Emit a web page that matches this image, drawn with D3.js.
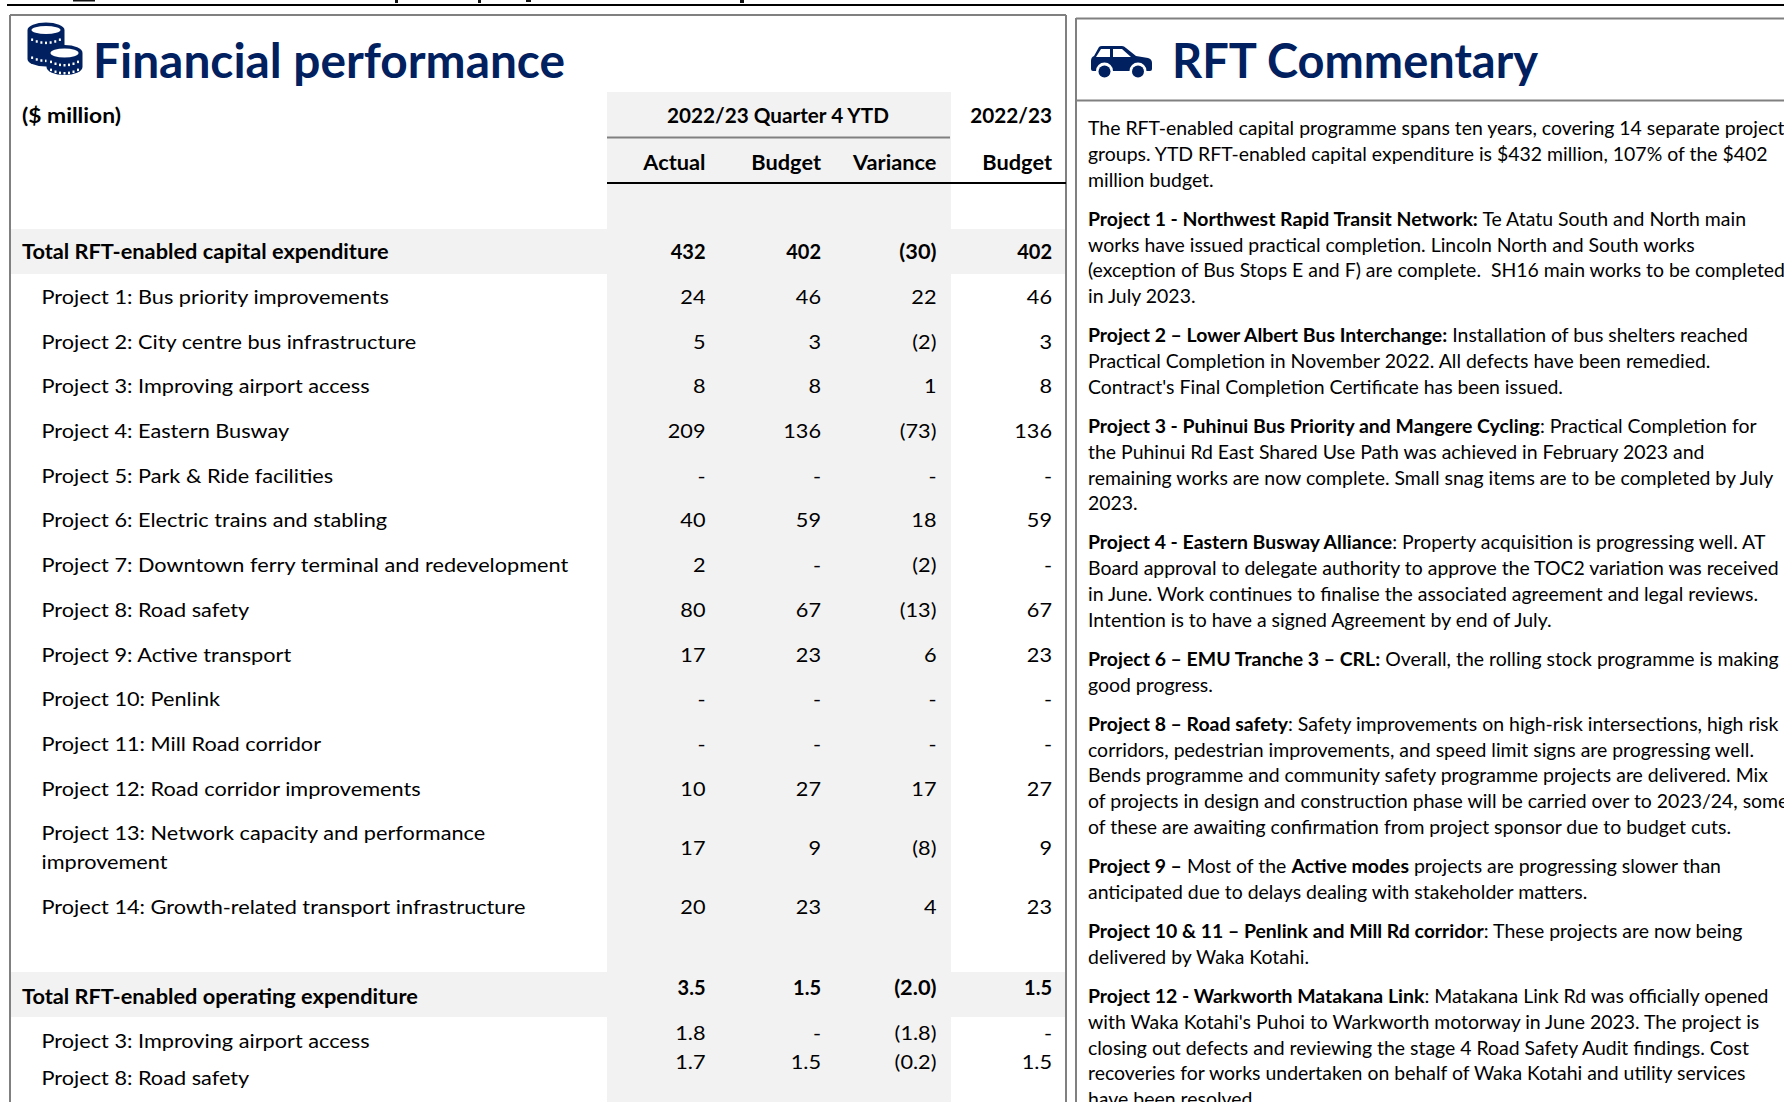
<!DOCTYPE html>
<html><head><meta charset="utf-8">
<script src="https://cdn.jsdelivr.net/npm/d3@7/dist/d3.min.js"></script>
<style>html,body{margin:0;padding:0;background:#fff;overflow:hidden}svg{display:block}text{font-family:Lato,"Open Sans",sans-serif;fill:#000}</style>
</head><body>
<svg id="c" width="1784" height="1102"></svg>
<script>
const columns = ["Actual","Budget","Variance","Budget FY"];
const capitalLabels = ["Total RFT-enabled capital expenditure","Project 1: Bus priority improvements","Project 2: City centre bus infrastructure","Project 3: Improving airport access","Project 4: Eastern Busway","Project 5: Park & Ride facilities","Project 6: Electric trains and stabling","Project 7: Downtown ferry terminal and redevelopment","Project 8: Road safety","Project 9: Active transport","Project 10: Penlink","Project 11: Mill Road corridor","Project 12: Road corridor improvements","Project 13: Network capacity and performance|improvement","Project 14: Growth-related transport infrastructure"];
const capitalActual   = [432,24,5,8,209,null,40,2,80,17,null,null,10,17,20];
const capitalBudget   = [402,46,3,8,136,null,59,null,67,23,null,null,27,9,23];
const capitalVariance = [-30,22,-2,1,-73,null,18,-2,-13,6,null,null,17,-8,4];
const capitalBudgetFY = [402,46,3,8,136,null,59,null,67,23,null,null,27,9,23];
const opexLabels = ["Total RFT-enabled operating expenditure","Project 3: Improving airport access","Project 8: Road safety"];
const opexActual   = [3.5,1.8,1.7];
const opexBudget   = [1.5,null,1.5];
const opexVariance = [-2.0,-1.8,-0.2];
const opexBudgetFY = [1.5,null,1.5];
const commentary = [
 ["The RFT-enabled capital programme spans ten years, covering 14 separate projects","groups. YTD RFT-enabled capital expenditure is $432 million, 107% of the $402","million budget."],
 ["*Project 1 - Northwest Rapid Transit Network:* Te Atatu South and North main","works have issued practical completion. Lincoln North and South works","(exception of Bus Stops E and F) are complete.  SH16 main works to be completed","in July 2023."],
 ["*Project 2 – Lower Albert Bus Interchange:* Installation of bus shelters reached","Practical Completion in November 2022. All defects have been remedied.","Contract's Final Completion Certificate has been issued."],
 ["*Project 3 - Puhinui Bus Priority and Mangere Cycling*: Practical Completion for","the Puhinui Rd East Shared Use Path was achieved in February 2023 and","remaining works are now complete. Small snag items are to be completed by July","2023."],
 ["*Project 4 - Eastern Busway Alliance*: Property acquisition is progressing well. AT","Board approval to delegate authority to approve the TOC2 variation was received","in June. Work continues to finalise the associated agreement and legal reviews.","Intention is to have a signed Agreement by end of July."],
 ["*Project 6 – EMU Tranche 3 – CRL:* Overall, the rolling stock programme is making","good progress."],
 ["*Project 8 – Road safety*: Safety improvements on high-risk intersections, high risk","corridors, pedestrian improvements, and speed limit signs are progressing well.","Bends programme and community safety programme projects are delivered. Mix","of projects in design and construction phase will be carried over to 2023/24, some","of these are awaiting confirmation from project sponsor due to budget cuts."],
 ["*Project 9 –* Most of the *Active modes* projects are progressing slower than","anticipated due to delays dealing with stakeholder matters."],
 ["*Project 10 & 11 – Penlink and Mill Rd corridor*: These projects are now being","delivered by Waka Kotahi."],
 ["*Project 12 - Warkworth Matakana Link*: Matakana Link Rd was officially opened","with Waka Kotahi's Puhoi to Warkworth motorway in June 2023. The project is","closing out defects and reviewing the stage 4 Road Safety Audit findings. Cost","recoveries for works undertaken on behalf of Waka Kotahi and utility services","have been resolved."]
];

const NAVY="#002060", BAND="#f2f2f2", RULE="#808080";
const svg=d3.select("#c");
const fmt0=v=>v==null?"-":v<0?`(${Math.abs(v)})`:`${v}`;
const fmt1=v=>v==null?"-":v<0?`(${Math.abs(v).toFixed(1)})`:v.toFixed(1);

const probe=svg.append("text").attr("x",-5000).attr("y",-5000).style("white-space","pre");
function measure(t,size,bold){probe.attr("font-size",size).attr("font-weight",bold?700:400).text(t);return probe.node().getComputedTextLength();}
const TS=20, BS=18.5;
const sxTable=527/measure(capitalLabels[7],TS,false);
const sxTableB=367/measure(capitalLabels[0],TS,true);
const sxHead=222/measure("2022/23 Quarter 4 YTD",TS,true);
const sxUnit=99/measure("($ million)",TS,true);
const sxBody=691/measure(commentary[4][1],BS,false);
const sxBodyB=390/measure("Project 1 - Northwest Rapid Transit Network:",BS,true);
function put(g,t,x,y,size,bold,sx,anchor){
  return g.append("text").attr("transform",`translate(${x},${y}) scale(${sx},1)`).attr("font-size",size).attr("font-weight",bold?700:400).attr("text-anchor",anchor||"start").style("white-space","pre").text(t);
}
const numSx=(t,bold)=>bold?(t.includes("(")?sxTableB:sxTableB*0.92):sxTable;

const xCol=d3.scalePoint().domain(columns).range([705.5,1052]);
const slots=[];let slotSum=0;capitalLabels.forEach(l=>{slots.push(slotSum);slotSum+=l.includes("|")?1.65:1;});
const yRow=d3.scaleLinear().domain([0,1]).range([259.2,303.9]);
const yLine=d3.scaleLinear().domain([0,1]).range([135,160.8]);
const paraGap=13.3;

const bg=svg.append("g");
bg.append("rect").attr("x",607).attr("y",92).attr("width",344).attr("height",1010).attr("fill",BAND);
bg.append("rect").attr("x",11).attr("y",229).attr("width",1054).attr("height",45).attr("fill",BAND);
bg.append("rect").attr("x",11).attr("y",972).attr("width",1054).attr("height",45).attr("fill",BAND);

const clipped=svg.append("g").attr("fill","#111");
[[73,22,1.5],[395,3,3],[478,3,3],[526,5,2],[740,4,3]].forEach(d=>clipped.append("rect").attr("x",d[0]).attr("y",0).attr("width",d[1]).attr("height",d[2]));

const ln=(a,b,c,d,col,w)=>svg.append("line").attr("x1",a).attr("y1",b).attr("x2",c).attr("y2",d).attr("stroke",col).attr("stroke-width",w);
ln(7,5,1784,5,"#000",2);
ln(10,15,1066,15,RULE,2);ln(10,15,10,1102,RULE,2);ln(1066,15,1066,1102,RULE,2);
ln(1076,18.5,1784,18.5,RULE,2);ln(1076,18,1076,1102,RULE,2);ln(1076,100.5,1784,100.5,RULE,2);
ln(607,137.5,950,137.5,RULE,2);ln(607,183,1066,183,"#000",2);

const coins=svg.append("g");
function stack(cx,cy,rx,ry,h,dotRows){
  coins.append("path").attr("fill",NAVY).attr("d",`M${cx-rx},${cy}A${rx},${ry} 0 0 1 ${cx+rx},${cy}V${cy+h}A${rx},${ry} 0 0 1 ${cx-rx},${cy+h}Z`);
  coins.append("ellipse").attr("cx",cx).attr("cy",cy).attr("rx",rx-4).attr("ry",ry-3.5).attr("fill","#fff");
  dotRows.forEach(dy=>d3.range(-0.75,0.76,0.25).forEach(k=>{
    coins.append("rect").attr("x",cx+k*rx-1).attr("y",cy+dy+(1-k*k)*ry*0.75-1).attr("width",2).attr("height",2.5).attr("fill","#fff");
  }));
}
stack(46,30,18.5,7.5,29,[7,25]);
stack(64.5,53,18,8,14,[6,14]);

const car=svg.append("g");
car.append("path").attr("fill",NAVY).attr("d","M1091,61Q1091,57 1094,56L1099,47Q1100,46 1102,46H1122Q1124,46 1126,48L1136,56L1148,58Q1152,59 1152,63V69Q1152,71 1150,71H1093Q1091,71 1091,69Z");
car.append("path").attr("fill","#fff").attr("d","M1096,57L1101,49H1110V57Z");
car.append("path").attr("fill","#fff").attr("d","M1113,49H1122L1131,57H1113Z");
[1104.5,1138].forEach(cx=>{
  car.append("circle").attr("cx",cx).attr("cy",71).attr("r",8.5).attr("fill","#fff");
  car.append("circle").attr("cx",cx).attr("cy",71.5).attr("r",6).attr("fill",NAVY);
});

const titles=svg.append("g");
titles.append("text").attr("x",93).attr("y",78).attr("font-size",47).attr("font-weight",700).attr("textLength",472).attr("lengthAdjust","spacingAndGlyphs").style("fill",NAVY).text("Financial performance");
titles.append("text").attr("x",1172).attr("y",78).attr("font-size",47).attr("font-weight",700).attr("textLength",366).attr("lengthAdjust","spacingAndGlyphs").style("fill",NAVY).text("RFT Commentary");

const head=svg.append("g");
put(head,"($ million)",22,122.5,TS,true,sxUnit);
put(head,"2022/23 Quarter 4 YTD",778,122.5,TS,true,sxHead,"middle");
put(head,"2022/23",xCol("Budget FY"),122.5,TS,true,sxHead,"end");
["Actual","Budget","Variance","Budget"].forEach((t,i)=>put(head,t,xCol(columns[i]),169.5,TS,true,sxTableB,"end"));

const seriesCap=[capitalActual,capitalBudget,capitalVariance,capitalBudgetFY];
const tbl=svg.append("g");
capitalLabels.forEach((label,i)=>{
  const bold=i===0, y=yRow(slots[i]), lines=label.split("|");
  lines.forEach((t,k)=>put(tbl,t,bold?22:41.5,y+k*29,TS,bold,bold?sxTableB:sxTable));
  const vy=lines.length>1?y+15:y;
  seriesCap.forEach((ser,c)=>{const t=fmt0(ser[i]);put(tbl,t,xCol(columns[c]),vy,TS,bold,numSx(t,bold),"end");});
});

const seriesOp=[opexActual,opexBudget,opexVariance,opexBudgetFY];
const opexLabelY=[1003.5,1047.5,1085], opexValueY=[995,1040,1069];
opexLabels.forEach((label,i)=>{
  const bold=i===0;
  put(tbl,label,bold?22:41.5,opexLabelY[i],TS,bold,bold?sxTableB:sxTable);
  seriesOp.forEach((ser,c)=>{const t=fmt1(ser[i]);put(tbl,t,xCol(columns[c]),opexValueY[i],TS,bold,numSx(t,bold),"end");});
});

const bodyG=svg.append("g");
let li=0;
commentary.forEach((para,pi)=>{
  para.forEach(line=>{
    const y=yLine(li)+pi*paraGap;
    let cx=1088;
    line.split("*").forEach((seg,k)=>{
      if(!seg)return;
      const b=k%2===1, sx=b?sxBodyB:sxBody;
      put(bodyG,seg,cx,y,BS,b,sx);
      cx+=measure(seg,BS,b)*sx;
    });
    li++;
  });
});
probe.remove();
</script>
</body></html>
